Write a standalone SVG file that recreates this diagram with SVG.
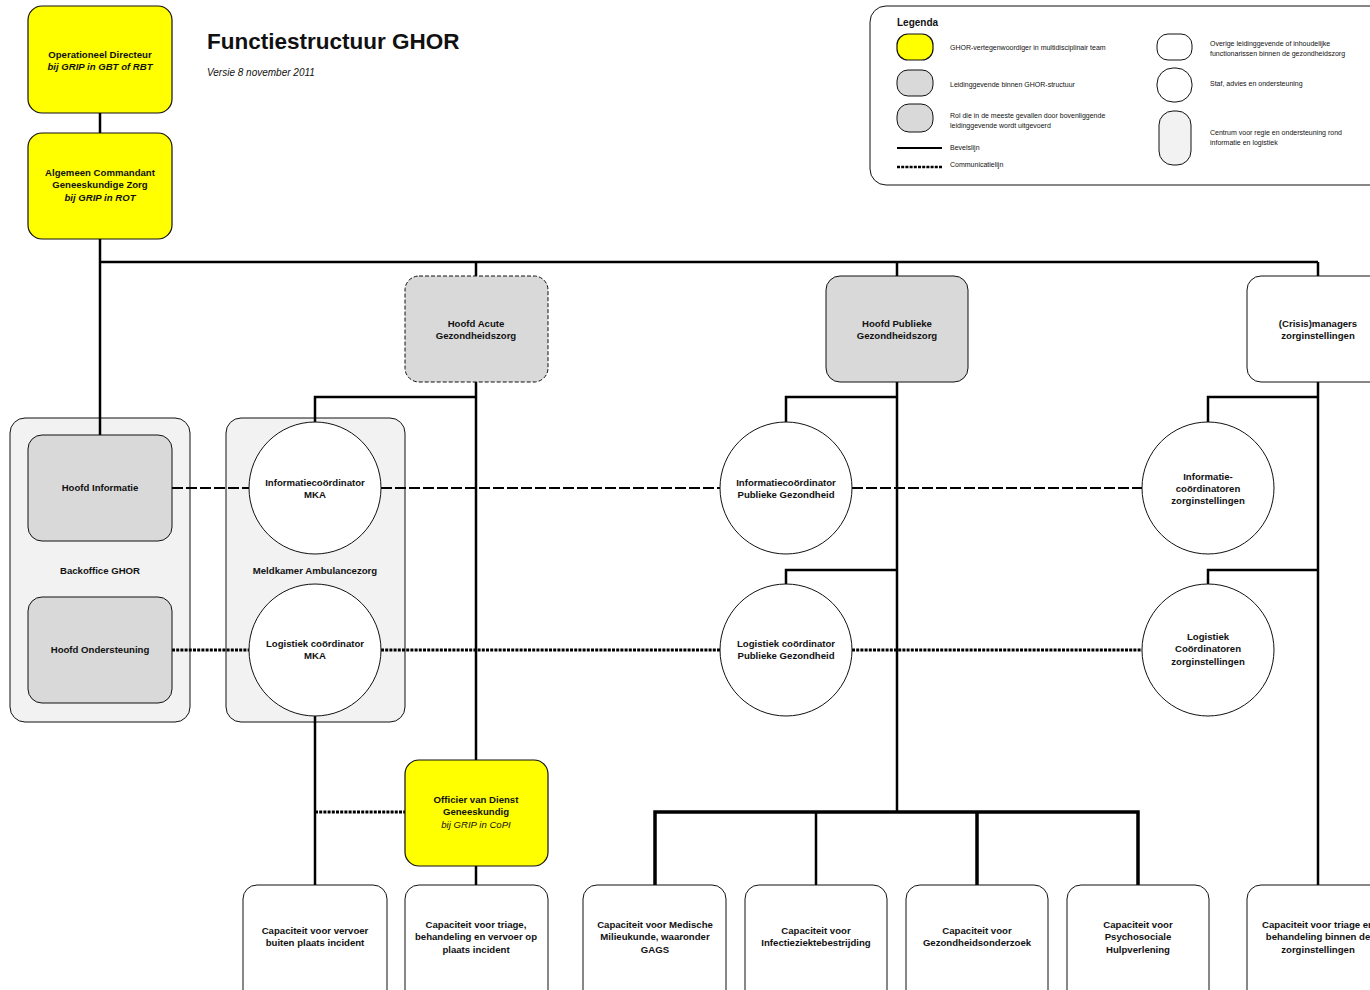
<svg xmlns="http://www.w3.org/2000/svg" width="1370" height="990" viewBox="0 0 1370 990">
<style>
text{font-family:"Liberation Sans",Arial,sans-serif;font-weight:bold;font-size:9.6px;fill:#111;text-anchor:middle}
.it{font-style:italic}
.yel{fill:#ffff00;stroke:#111;stroke-width:1.2}
.gry{fill:#d9d9d9;stroke:#111;stroke-width:1}
.wht{fill:#fff;stroke:#111;stroke-width:1}
.ctr{fill:#f2f2f2;stroke:#111;stroke-width:1}
.cmd{fill:none;stroke:#000;stroke-width:2.5}
.thick{fill:none;stroke:#000;stroke-width:3.5}
.info{fill:none;stroke:#000;stroke-width:2;stroke-dasharray:11 3}
.log{fill:none;stroke:#000;stroke-width:3;stroke-dasharray:3 1.2}
.lg{font-size:7px;font-weight:normal;text-anchor:start}
</style>
<rect width="1370" height="990" fill="#fff"/>
<g id="title">
<text x="207" y="49" style="font-size:22.5px;text-anchor:start">Functiestructuur GHOR</text>
<text x="207" y="76" class="it" style="font-size:10px;font-weight:normal;text-anchor:start">Versie 8 november 2011</text>
</g>
<g id="legend">
<rect x="870" y="6" width="520" height="179" rx="16" fill="#fff" stroke="#111" stroke-width="1"/>
<text x="897" y="26" style="font-size:10px;text-anchor:start">Legenda</text>
<rect x="897" y="34" width="36" height="26" rx="11" class="yel"/>
<rect x="897" y="70" width="36" height="26" rx="11" class="gry"/>
<rect x="897" y="104" width="36" height="28" rx="12" class="gry"/>
<line x1="897" y1="148" x2="942" y2="148" class="cmd" style="stroke-width:2"/>
<line x1="897" y1="167" x2="942" y2="167" class="log" style="stroke-width:2.5"/>
<text x="950" y="50" class="lg">GHOR-vertegenwoordiger in multidisciplinair team</text>
<text x="950" y="87" class="lg">Leidinggevende binnen GHOR-structuur</text>
<text x="950" y="118" class="lg">Rol die in de meeste gevallen door bovenliggende</text>
<text x="950" y="128" class="lg">leidinggevende wordt uitgevoerd</text>
<text x="950" y="150" class="lg">Bevelslijn</text>
<text x="950" y="167" class="lg">Communicatielijn</text>
<rect x="1157" y="34" width="35" height="26" rx="11" class="wht"/>
<rect x="1157" y="68" width="35" height="34" rx="16" class="wht"/>
<rect x="1159" y="111" width="32" height="54" rx="14" class="ctr"/>
<text x="1210" y="46" class="lg">Overige leidinggevende of inhoudelijke</text>
<text x="1210" y="56" class="lg">functionarissen binnen de gezondheidszorg</text>
<text x="1210" y="86" class="lg">Staf, advies en ondersteuning</text>
<text x="1210" y="135" class="lg">Centrum voor regie en ondersteuning rond</text>
<text x="1210" y="145" class="lg">informatie en logistiek</text>
</g>
<g id="backoffice">
<rect x="10" y="418" width="180" height="304" rx="15" class="ctr"/>
<text x="100" y="574">Backoffice GHOR</text>
</g>
<g id="meldkamer">
<rect x="226" y="418" width="179" height="304" rx="15" class="ctr"/>
<text x="315" y="574">Meldkamer Ambulancezorg</text>
</g>
<g id="connectors">
<line x1="100" y1="113" x2="100" y2="133" class="cmd"/>
<polyline points="100,239 100,435" class="cmd"/>
<polyline points="100,262 1318,262" class="cmd"/>
<line x1="476" y1="262" x2="476" y2="276" class="cmd"/>
<line x1="897" y1="262" x2="897" y2="276" class="cmd"/>
<line x1="1318" y1="262" x2="1318" y2="276" class="cmd"/>
<line x1="476" y1="382" x2="476" y2="760" class="cmd"/>
<polyline points="476,397 315,397 315,422" class="cmd"/>
<line x1="315" y1="716" x2="315" y2="885" class="cmd"/>
<line x1="476" y1="866" x2="476" y2="885" class="cmd"/>
<line x1="897" y1="382" x2="897" y2="812" class="cmd"/>
<polyline points="897,397 786,397 786,422" class="cmd"/>
<polyline points="897,570 786,570 786,584" class="cmd"/>
<polyline points="655,885 655,812 1138,812 1138,885" class="thick"/>
<line x1="816" y1="812" x2="816" y2="885" class="cmd"/>
<line x1="977" y1="812" x2="977" y2="885" class="thick"/>
<line x1="1318" y1="382" x2="1318" y2="885" class="cmd"/>
<polyline points="1318,397 1208,397 1208,422" class="cmd"/>
<polyline points="1318,570 1208,570 1208,584" class="cmd"/>
<line x1="172" y1="488" x2="249" y2="488" class="info"/>
<line x1="381" y1="488" x2="720" y2="488" class="info"/>
<line x1="852" y1="488" x2="1142" y2="488" class="info"/>
<line x1="172" y1="650" x2="249" y2="650" class="log"/>
<line x1="381" y1="650" x2="720" y2="650" class="log"/>
<line x1="852" y1="650" x2="1142" y2="650" class="log"/>
<line x1="315" y1="812" x2="405" y2="812" class="log"/>
</g>
<g id="op-directeur">
<rect x="28" y="6" width="144" height="107" rx="14" class="yel"/>
<text x="100" y="57.5">Operationeel Directeur</text>
<text x="100" y="70" class="it">bij GRIP in GBT of RBT</text>
</g>
<g id="acgz">
<rect x="28" y="133" width="144" height="106" rx="14" class="yel"/>
<text x="100" y="175.5">Algemeen Commandant</text>
<text x="100" y="188">Geneeskundige Zorg</text>
<text x="100" y="200.5" class="it">bij GRIP in ROT</text>
</g>
<g id="hoofd-acute">
<rect x="405" y="276" width="143" height="106" rx="14" class="gry" style="stroke-dasharray:4 2"/>
<text x="476" y="326.5">Hoofd Acute</text>
<text x="476" y="338.5">Gezondheidszorg</text>
</g>
<g id="hoofd-publieke">
<rect x="826" y="276" width="142" height="106" rx="14" class="gry"/>
<text x="897" y="326.5">Hoofd Publieke</text>
<text x="897" y="338.5">Gezondheidszorg</text>
</g>
<g id="crisismanagers">
<rect x="1247" y="276" width="142" height="106" rx="14" class="wht"/>
<text x="1318" y="326.5">(Crisis)managers</text>
<text x="1318" y="338.5">zorginstellingen</text>
</g>
<g id="hoofd-informatie">
<rect x="28" y="435" width="144" height="106" rx="14" class="gry"/>
<text x="100" y="490.5">Hoofd Informatie</text>
</g>
<g id="hoofd-ondersteuning">
<rect x="28" y="597" width="144" height="106" rx="14" class="gry"/>
<text x="100" y="652.5">Hoofd Ondersteuning</text>
</g>
<g id="info-mka">
<circle cx="315" cy="488" r="66" class="wht"/>
<text x="315" y="485.5">Informatiecoördinator</text>
<text x="315" y="497.5">MKA</text>
</g>
<g id="log-mka">
<circle cx="315" cy="650" r="66" class="wht"/>
<text x="315" y="646.5">Logistiek coördinator</text>
<text x="315" y="658.5">MKA</text>
</g>
<g id="info-pg">
<circle cx="786" cy="488" r="66" class="wht"/>
<text x="786" y="485.5">Informatiecoördinator</text>
<text x="786" y="497.5">Publieke Gezondheid</text>
</g>
<g id="log-pg">
<circle cx="786" cy="650" r="66" class="wht"/>
<text x="786" y="646.5">Logistiek coördinator</text>
<text x="786" y="658.5">Publieke Gezondheid</text>
</g>
<g id="info-zi">
<circle cx="1208" cy="488" r="66" class="wht"/>
<text x="1208" y="479.5">Informatie-</text>
<text x="1208" y="491.5">coördinatoren</text>
<text x="1208" y="503.5">zorginstellingen</text>
</g>
<g id="log-zi">
<circle cx="1208" cy="650" r="66" class="wht"/>
<text x="1208" y="639.5">Logistiek</text>
<text x="1208" y="652">Coördinatoren</text>
<text x="1208" y="664.5">zorginstellingen</text>
</g>
<g id="ovd-g">
<rect x="405" y="760" width="143" height="106" rx="14" class="yel"/>
<text x="476" y="802.5">Officier van Dienst</text>
<text x="476" y="815">Geneeskundig</text>
<text x="476" y="827.5" class="it" style="font-weight:normal">bij GRIP in CoPI</text>
</g>
<g id="cap-vervoer">
<rect x="243" y="885" width="144" height="120" rx="14" class="wht"/>
<text x="315" y="933.5">Capaciteit voor vervoer</text>
<text x="315" y="946">buiten plaats incident</text>
</g>
<g id="cap-triage">
<rect x="405" y="885" width="143" height="120" rx="14" class="wht"/>
<text x="476" y="927.5">Capaciteit voor triage,</text>
<text x="476" y="940">behandeling en vervoer op</text>
<text x="476" y="952.5">plaats incident</text>
</g>
<g id="cap-mmk">
<rect x="583" y="885" width="143" height="120" rx="14" class="wht"/>
<text x="655" y="927.5">Capaciteit voor Medische</text>
<text x="655" y="940">Milieukunde, waaronder</text>
<text x="655" y="952.5">GAGS</text>
</g>
<g id="cap-infectie">
<rect x="745" y="885" width="142" height="120" rx="14" class="wht"/>
<text x="816" y="933.5">Capaciteit voor</text>
<text x="816" y="946">Infectieziektebestrijding</text>
</g>
<g id="cap-gezondheidsonderzoek">
<rect x="906" y="885" width="142" height="120" rx="14" class="wht"/>
<text x="977" y="933.5">Capaciteit voor</text>
<text x="977" y="946">Gezondheidsonderzoek</text>
</g>
<g id="cap-psychosociaal">
<rect x="1067" y="885" width="142" height="120" rx="14" class="wht"/>
<text x="1138" y="927.5">Capaciteit voor</text>
<text x="1138" y="940">Psychosociale</text>
<text x="1138" y="952.5">Hulpverlening</text>
</g>
<g id="cap-zorginstellingen">
<rect x="1247" y="885" width="142" height="120" rx="14" class="wht"/>
<text x="1318" y="927.5">Capaciteit voor triage en</text>
<text x="1318" y="940">behandeling binnen de</text>
<text x="1318" y="952.5">zorginstellingen</text>
</g>
</svg>
